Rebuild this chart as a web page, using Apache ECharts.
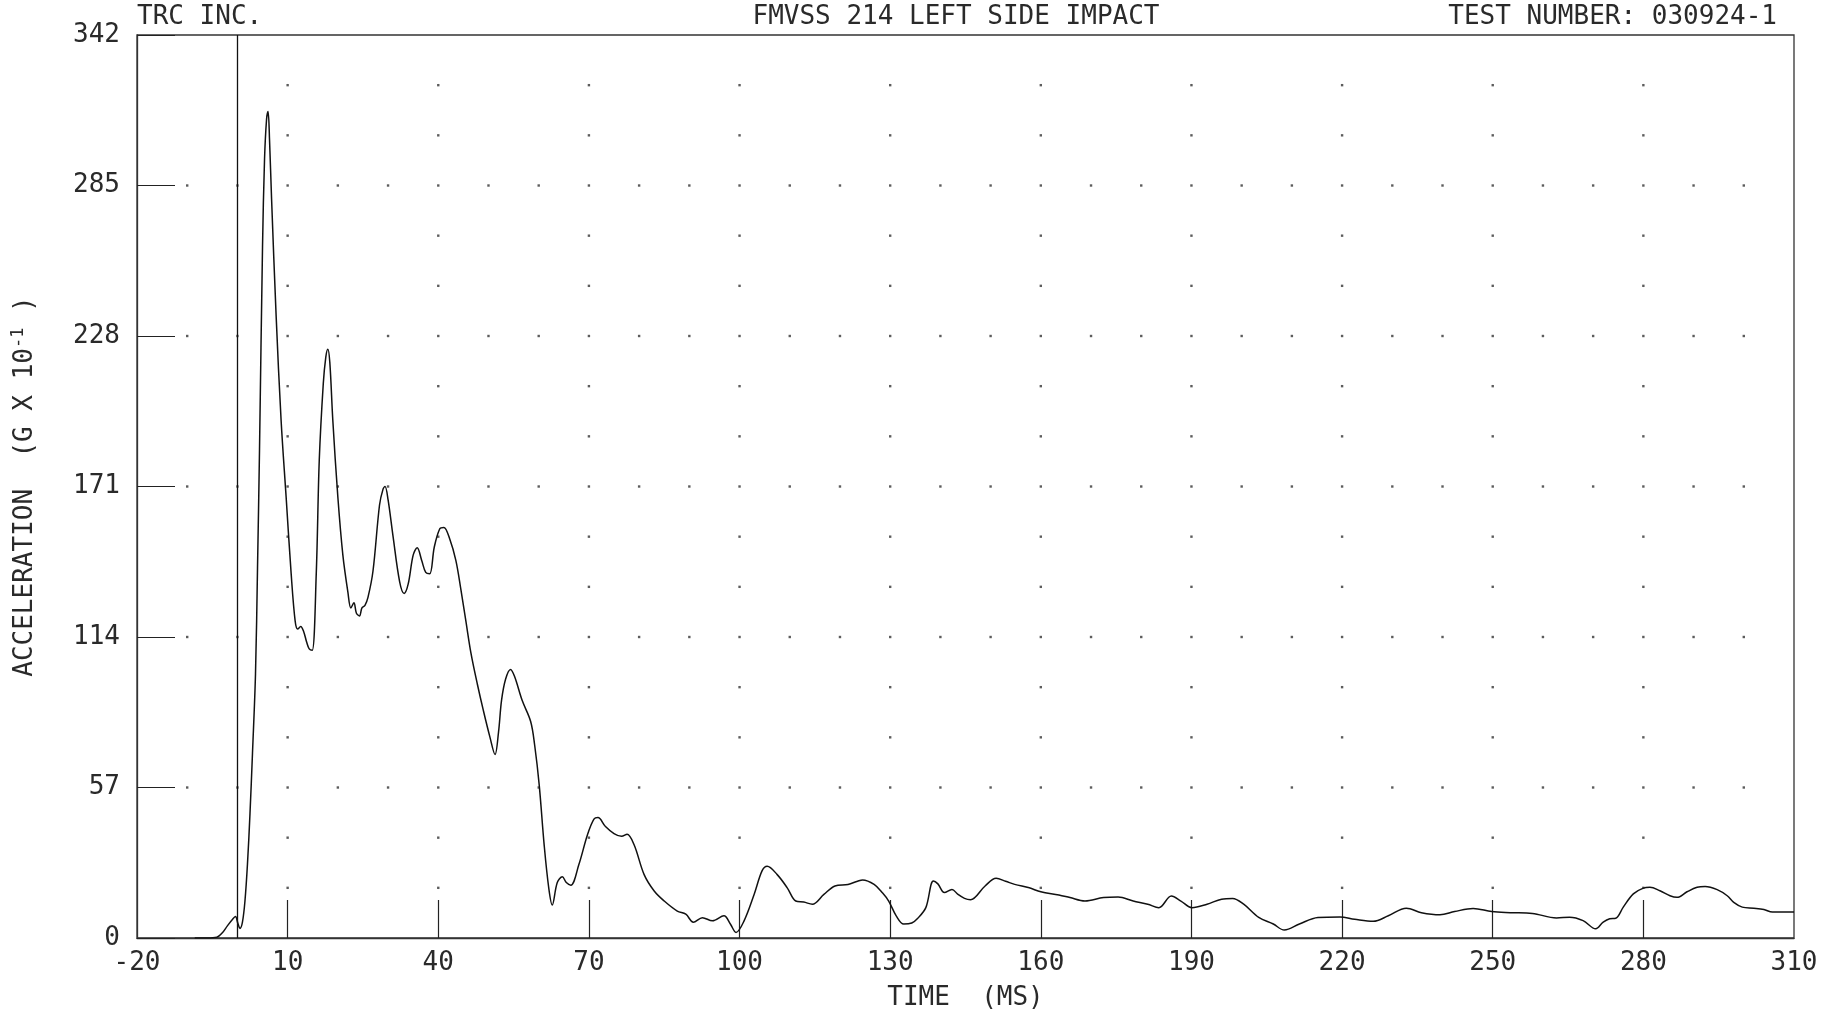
<!DOCTYPE html>
<html>
<head>
<meta charset="utf-8">
<script src="https://cdn.jsdelivr.net/npm/echarts@6/dist/echarts.min.js"></script>
<style>
  html, body { margin: 0; padding: 0; background: #fff; }
  #chart { width: 1837px; height: 1016px; }
</style>
</head>
<body>
<div id="chart"></div>
<script>
// ---- data ----
const timeMs = [-8.5, -6, -4.1, -3, -2, -1, -0.4, 0.1, 0.5, 1.0, 1.5, 2.0, 2.5, 3.0, 3.6, 4.0, 4.4, 5.0, 5.4, 5.8, 6.1, 6.4, 6.8, 7.7, 8.7, 9.7, 10.7, 11.5, 12.0, 12.6, 13.2, 13.8, 14.3, 14.9, 15.7, 16.3, 17.1, 17.6, 18.0, 18.4, 19.0, 20.0, 21.0, 22.0, 22.6, 23.2, 23.7, 24.3, 24.8, 25.4, 26.0, 27.0, 28.3, 29.0, 29.4, 30.0, 31.0, 32.3, 33.2, 34.0, 35.0, 35.8, 36.7, 37.5, 38.3, 39.2, 40.3, 41.1, 42.3, 43.5, 44.5, 45.5, 46.5, 47.8, 49.0, 50.3, 51.3, 52.0, 52.6, 53.4, 54.4, 55.2, 56.7, 58.4, 59.2, 60.1, 61.1, 62.0, 62.7, 63.7, 64.7, 65.5, 66.4, 68.0, 69.7, 71.0, 71.8, 73.3, 75.0, 76.5, 77.6, 79.0, 81.0, 83.0, 85.0, 87.6, 89.3, 90.8, 92.6, 94.6, 96.9, 98.2, 99.3, 100.9, 102.9, 104.5, 105.5, 107.5, 109.5, 111.2, 112.8, 114.5, 116.8, 119.0, 121.6, 123.5, 124.5, 126.8, 128.5, 129.7, 131.2, 132.7, 134.3, 135.5, 137.1, 138.6, 139.5, 140.8, 142.3, 143.5, 144.8, 146.0, 148.9, 151.1, 153.0, 154.8, 157.7, 160.0, 163.6, 165.8, 168.8, 172.5, 175.4, 178.4, 181.3, 183.5, 186.0, 187.9, 190.1, 193.1, 196.0, 198.2, 200.4, 203.4, 206.3, 208.5, 211.5, 215.2, 219.6, 222.5, 226.2, 229.2, 232.8, 235.8, 239.5, 242.4, 246.1, 249.8, 253.5, 257.9, 262.7, 265.3, 268.0, 270.5, 272.0, 273.3, 274.5, 276.0, 278.0, 280.0, 281.3, 283.3, 285.3, 286.7, 288.7, 290.7, 292.3, 294.7, 296.7, 298.0, 299.7, 302.0, 304.0, 305.7, 310.0];
const accel = [0, 0, 0.3, 2, 4.6, 7, 8.1, 5.5, 3.6, 6, 14, 28, 47, 70, 100, 140, 185, 262, 295, 310, 313, 302, 280, 236, 196, 167, 138, 120, 117, 118, 116, 112, 109.5, 109, 138, 181, 210, 220, 223, 218, 196, 167, 145, 131, 125, 127, 123, 122, 125, 126, 129, 139, 164, 170, 171, 166, 152, 135, 130.5, 134, 145, 147.8, 143, 138.5, 138, 148, 155, 155.5, 151, 143, 132, 120, 108, 96, 86, 76, 69.5, 78, 90, 98, 101.7, 99, 90, 82, 73, 58, 35, 19, 12.5, 21, 23.2, 21, 20, 27.8, 39, 45, 45.6, 42.2, 39.5, 38.5, 39.3, 35.3, 24, 17.8, 14, 10.2, 9, 6, 7.7, 6.5, 8.4, 5.2, 2.1, 6.5, 16.5, 25.5, 27.2, 24, 19, 14, 13.6, 12.8, 16.5, 19.7, 20.3, 21.5, 22, 20.3, 17, 14, 8.4, 5.3, 5.7, 7.5, 11.5, 21.6, 20.5, 17.2, 18.4, 16.5, 15, 14.5, 19.7, 22.6, 21.5, 20.3, 19, 17.5, 16.3, 15.3, 14, 15.3, 15.5, 14, 12.8, 11.5, 15.9, 14, 11.5, 12.8, 14.7, 15, 12.8, 7.8, 5.3, 3, 5.3, 7.8, 8, 7.1, 6.3, 8.4, 11.3, 9.6, 8.8, 10, 11.2, 10, 9.6, 9.3, 7.6, 7.9, 6.6, 3.5, 6, 7.3, 7.5, 11.7, 16.7, 18.9, 19.2, 17.9, 16, 15.4, 17.5, 19.2, 19.5, 18.3, 16, 13.5, 11.7, 11.3, 10.8, 9.8, 9.8];

const xLabelValues = [-20, 10, 40, 70, 100, 130, 160, 190, 220, 250, 280, 310];
const xTickValues = [10, 40, 70, 100, 130, 160, 190, 220, 250, 280];
const yTickValues = [0, 57, 114, 171, 228, 285, 342];
const minorRowValues = [19, 38, 76, 95, 133, 152, 190, 209, 247, 266, 304, 323];
const majorRowValues = [57, 114, 171, 228, 285];
const majorDotColumns = [-10, 0, 10, 20, 30, 40, 50, 60, 70, 80, 90, 100, 110, 120, 130, 140, 150, 160, 170, 180, 190, 200, 210, 220, 230, 240, 250, 260, 270, 280, 290, 300];

const headerLeft = 'TRC INC.';
const headerCenter = 'FMVSS 214 LEFT SIDE IMPACT';
const headerRight = 'TEST NUMBER: 030924-1';

// ---- build option ----
const curve = timeMs.map((t, i) => [t, accel[i]]);
const dots = [];
majorRowValues.forEach(v => majorDotColumns.forEach(t => dots.push([t, v])));
minorRowValues.forEach(v => xTickValues.forEach(t => dots.push([t, v])));

const FONT = '"DejaVu Sans Mono", "Liberation Mono", monospace';
const FS = 26;
const INK = '#2a2a2a';

const chart = echarts.init(document.getElementById('chart'), null, { renderer: 'canvas' });
chart.setOption({
  backgroundColor: '#fff',
  animation: false,
  grid: { left: 137, right: 43, top: 35, bottom: 71, show: true, borderColor: '#333', borderWidth: 1.3, backgroundColor: 'transparent' },
  graphic: [
    { type: 'text', x: 137, y: 4, style: { text: headerLeft, font: FS + 'px ' + FONT, fill: INK, align: 'left', verticalAlign: 'top' } },
    { type: 'text', x: 956, y: 4, style: { text: headerCenter, font: FS + 'px ' + FONT, fill: INK, align: 'center', verticalAlign: 'top' } },
    { type: 'text', x: 1777, y: 4, style: { text: headerRight, font: FS + 'px ' + FONT, fill: INK, align: 'right', verticalAlign: 'top' } }
  ],
  xAxis: {
    type: 'value', min: -20, max: 310, interval: 30,
    name: 'TIME  (MS)', nameLocation: 'middle', nameGap: 47,
    nameTextStyle: { fontFamily: FONT, fontSize: FS, color: INK },
    axisLine: { show: true, onZero: false, lineStyle: { color: '#333', width: 1.3 } },
    axisTick: { show: true, inside: true, length: 38, customValues: xTickValues, lineStyle: { color: '#222', width: 1.2 } },
    axisLabel: { customValues: xLabelValues, margin: 12, fontFamily: FONT, fontSize: FS, color: INK, showMinLabel: true, showMaxLabel: true },
    splitLine: { show: false }
  },
  yAxis: {
    type: 'value', min: 0, max: 342, interval: 57,
    name: 'ACCELERATION  (G X 10{sup|-1} )', nameLocation: 'middle', nameGap: 96,
    nameTextStyle: { fontFamily: FONT, fontSize: FS, color: INK, rich: { sup: { fontFamily: FONT, fontSize: 17, color: INK, padding: [0, 0, 14, 0] } } },
    axisLine: { show: true, onZero: false, lineStyle: { color: '#333', width: 1.3 } },
    axisTick: { show: true, inside: true, length: 38, customValues: yTickValues, lineStyle: { color: '#222', width: 1.2 } },
    axisLabel: { customValues: yTickValues, margin: 17, fontFamily: FONT, fontSize: FS, color: INK },
    splitLine: { show: false }
  },
  series: [
    {
      name: 'grid dots', type: 'scatter', data: dots, symbol: 'rect', symbolSize: 2.4, silent: true,
      itemStyle: { color: '#333' }, z: 1
    },
    {
      name: 'acceleration', type: 'line', data: curve, showSymbol: false, smooth: 0.35,
      lineStyle: { color: '#111', width: 1.5 }, z: 3,
      markLine: {
        silent: true, symbol: ['none', 'none'], label: { show: false },
        lineStyle: { color: '#111', width: 1.3, type: 'solid' },
        data: [{ xAxis: 0 }]
      }
    }
  ]
});
</script>
</body>
</html>
